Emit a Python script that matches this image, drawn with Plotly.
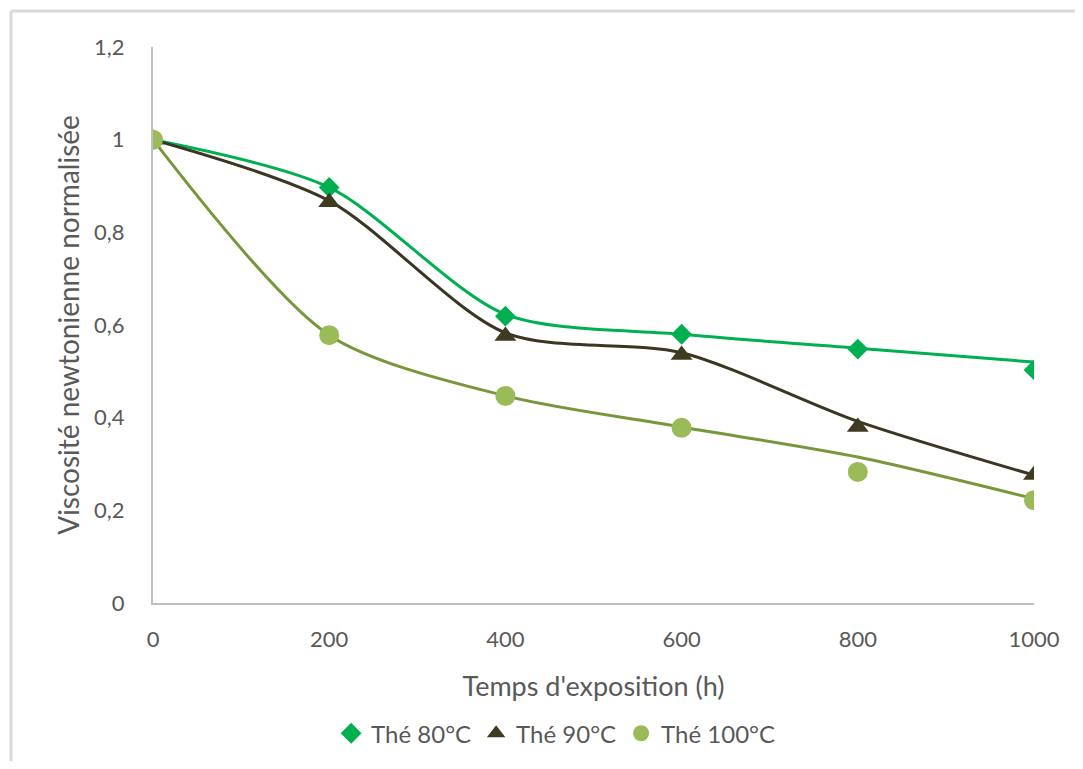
import plotly.graph_objects as go

hours = [0, 200, 400, 600, 800, 1000]

# measured points
the_80 = [1.0, 0.897, 0.619, 0.580, 0.548, 0.503]
the_90 = [1.0, 0.865, 0.576, 0.535, 0.380, 0.276]
the_100 = [1.0, 0.578, 0.447, 0.378, 0.283, 0.222]

# smoothed curves as drawn in the chart
curve_80 = [1.0, 0.897, 0.623, 0.580, 0.550, 0.520]
curve_90 = [1.0, 0.868, 0.583, 0.540, 0.392, 0.276]
curve_100 = [1.0, 0.578, 0.447, 0.380, 0.315, 0.225]

names = ["Thé 80°C", "Thé 90°C", "Thé 100°C"]
y_ticks = [0, 0.2, 0.4, 0.6, 0.8, 1.0, 1.2]
y_ticktext = ["0", "0,2", "0,4", "0,6", "0,8", "1", "1,2"]
x_ticks = [0, 200, 400, 600, 800, 1000]

FONT = "Lato, Open Sans, sans-serif"
TXT = "#595959"

fig = go.Figure()

line_colors = ["#00B050", "#3B3623", "#77973A"]
curves = [curve_80, curve_90, curve_100]
for c, col in zip(curves, line_colors):
    fig.add_trace(go.Scatter(x=hours, y=c, mode="lines",
                             line=dict(color=col, width=3, shape="spline", smoothing=0.8),
                             showlegend=False, hoverinfo="skip"))

marker_specs = [
    dict(symbol="diamond", color="#00B050", size=16),
    dict(symbol="triangle-up", color="#3F3A22", size=19),
    dict(symbol="circle", color="#9BBB59", size=20),
]
for vals, name, m in zip([the_80, the_90, the_100], names, marker_specs):
    fig.add_trace(go.Scatter(x=hours, y=vals, mode="markers", name=name,
                             marker=dict(symbol=m["symbol"], color=m["color"], size=m["size"],
                                         line=dict(width=0))))

fig.update_layout(
    width=1067, height=753,
    margin=dict(l=145, r=41, t=39, b=158, autoexpand=False),
    paper_bgcolor="white", plot_bgcolor="white",
    font=dict(family=FONT, size=22, color=TXT),
    legend=dict(orientation="h", x=0.457, xanchor="center", y=-0.235, yanchor="middle",
                font=dict(size=24, color=TXT), itemwidth=30, tracegroupgap=0),
    xaxis=dict(range=[0, 1000], tickvals=x_ticks, showgrid=False, zeroline=False,
               showline=True, linecolor="#BFBFBF", linewidth=2, ticks="", automargin=False,
               ticklabelstandoff=16,
               title=dict(text="Temps d'exposition (h)", font=dict(size=27, color=TXT), standoff=26)),
    yaxis=dict(range=[0, 1.2], tickvals=y_ticks, ticktext=y_ticktext, showgrid=False, zeroline=False,
               showline=True, linecolor="#BFBFBF", linewidth=2, ticks="", automargin=False,
               ticklabelstandoff=22,
               title=dict(text="Viscosité newtonienne normalisée", font=dict(size=28, color=TXT), standoff=6)),
    shapes=[
        dict(type="line", xref="paper", yref="paper", x0=-0.1612, x1=1.06, y0=1.0647, y1=1.0647,
             line=dict(color="#D9D9D9", width=3)),
        dict(type="line", xref="paper", yref="paper", x0=-0.1612, x1=-0.1612, y0=1.0647, y1=-0.31,
             line=dict(color="#D9D9D9", width=3)),
    ],
)

fig.write_html("out.html")
